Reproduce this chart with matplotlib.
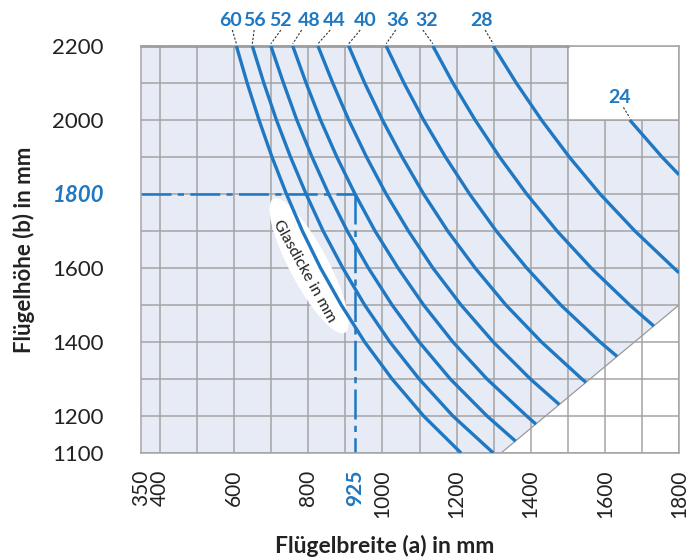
import numpy as np
import matplotlib
matplotlib.use("Agg")
import matplotlib.pyplot as plt
from matplotlib.patches import Polygon, Rectangle, Ellipse

plt.rcParams.update({
    "font.family": ["Lato", "DejaVu Sans"],
    "font.size": 14,
})

BLUE = "#1f78c1"
GRID = "#a4a4a4"
FILL = "#e7ebf6"
TEXT = "#222222"

# glass thickness (mm) -> curve: heights b and widths a
THICKNESS = [60, 56, 52, 48, 44, 40, 36, 32, 28, 24]

H_60 = [2200, 2100, 2000, 1900, 1800, 1700, 1600, 1500, 1400, 1300, 1200, 1100]
W_60 = [606, 635, 667, 702, 741, 784, 833, 889, 952, 1026, 1111, 1212]

H_56 = [2200, 2100, 2000, 1900, 1800, 1700, 1600, 1500, 1400, 1300, 1200, 1100]
W_56 = [649, 680, 714, 752, 794, 840, 893, 952, 1020, 1099, 1190, 1299]

H_52 = [2200, 2100, 2000, 1900, 1800, 1700, 1600, 1500, 1400, 1300, 1200, 1132]
W_52 = [699, 733, 769, 810, 855, 905, 962, 1026, 1099, 1183, 1282, 1359]

H_48 = [2200, 2100, 2000, 1900, 1800, 1700, 1600, 1500, 1400, 1300, 1200, 1178]
W_48 = [758, 794, 833, 877, 926, 980, 1042, 1111, 1190, 1282, 1389, 1414]

H_44 = [2200, 2100, 2000, 1900, 1800, 1700, 1600, 1500, 1400, 1300, 1231]
W_44 = [826, 866, 909, 957, 1010, 1070, 1136, 1212, 1299, 1399, 1477]

H_40 = [2200, 2100, 2000, 1900, 1800, 1700, 1600, 1500, 1400, 1300, 1291]
W_40 = [909, 952, 1000, 1053, 1111, 1176, 1250, 1333, 1429, 1538, 1549]

H_36 = [2200, 2100, 2000, 1900, 1800, 1700, 1600, 1500, 1400, 1361]
W_36 = [1010, 1058, 1111, 1170, 1235, 1307, 1389, 1481, 1587, 1633]

H_32 = [2200, 2100, 2000, 1900, 1800, 1700, 1600, 1500, 1443]
W_32 = [1136, 1190, 1250, 1316, 1389, 1471, 1563, 1667, 1732]

H_28 = [2200, 2100, 2000, 1900, 1800, 1700, 1600, 1587]
W_28 = [1299, 1361, 1429, 1504, 1587, 1681, 1786, 1800]

H_24 = [2000, 1900, 1852]
W_24 = [1667, 1754, 1800]

CURVES = {60: (W_60, H_60), 56: (W_56, H_56), 52: (W_52, H_52),
          48: (W_48, H_48), 44: (W_44, H_44), 40: (W_40, H_40),
          36: (W_36, H_36), 32: (W_32, H_32), 28: (W_28, H_28),
          24: (W_24, H_24)}

# permitted area (shaded)
AREA_A = [350, 350, 1500, 1500, 1800, 1800, 1320]
AREA_B = [1100, 2200, 2200, 2000, 2000, 1500, 1100]

X_TICKS = [350, 400, 600, 800, 925, 1000, 1200, 1400, 1600, 1800]
Y_TICKS = [1100, 1200, 1400, 1600, 1800, 2000, 2200]

EXAMPLE_A = 925
EXAMPLE_B = 1800

# label placement (text x, leader start x)
LABEL_POS = {60: (589, 595), 56: (656, 654), 52: (726, 726), 48: (802, 782),
             44: (870, 859), 40: (954, 940), 36: (1042, 1036),
             32: (1118, 1109), 28: (1268, 1277)}

fig = plt.figure(figsize=(6.98, 5.60), dpi=100)
ax = fig.add_axes([0.2027, 0.1911, 0.7701, 0.7268])
ax.set_xlim(350, 1800)
ax.set_ylim(1100, 2200)

ax.add_patch(Polygon(np.column_stack([AREA_A, AREA_B]), closed=True,
                     facecolor=FILL, edgecolor="none", zorder=0.1))

# grid every 100 mm
for gx in np.arange(400, 1801, 100):
    ax.axvline(gx, color=GRID, lw=1.1, zorder=0.5)
for gy in np.arange(1100, 2201, 100):
    ax.axhline(gy, color=GRID, lw=1.1, zorder=0.5)
ax.add_patch(Rectangle((1500, 2000), 300, 200, facecolor="white",
                       edgecolor=GRID, lw=1.1, zorder=0.6))
ax.plot([AREA_A[5], AREA_A[6]], [AREA_B[5], AREA_B[6]], color="#9a9a9a",
        lw=0.9, zorder=0.7)

for s in ax.spines.values():
    s.set_color(GRID)
    s.set_linewidth(1.1)
ax.plot([350, 1500], [2200, 2200], color="#8e8e8e", lw=1.8,
        clip_on=False, zorder=0.8)

ax.set_xticks(X_TICKS)
ax.set_yticks(Y_TICKS)
ax.set_xticklabels([str(v) for v in X_TICKS], rotation=90)
ax.set_yticklabels([str(v) for v in Y_TICKS])
ax.tick_params(which="both", length=0)
ax.tick_params(axis="y", pad=27, labelsize=16, labelcolor=TEXT)
ax.tick_params(axis="x", pad=12, labelsize=15, labelcolor=TEXT)
for lbl in ax.get_xticklabels():
    if lbl.get_text() == str(EXAMPLE_A):
        lbl.set_color(BLUE)
        lbl.set_fontweight("bold")
for lbl in ax.get_yticklabels():
    if lbl.get_text() == str(EXAMPLE_B):
        lbl.set_color(BLUE)
        lbl.set_fontweight("bold")
        lbl.set_fontstyle("italic")

# white label blob
ax.add_patch(Ellipse((802, 1606), width=410, height=104, angle=-62,
                     facecolor="white", edgecolor="none", zorder=1.5))
ax.text(790, 1590, "Glasdicke in mm", rotation=-61, rotation_mode="anchor",
        ha="center", va="center", fontsize=11.5, color=TEXT, zorder=4)

# example lines
ax.plot([350, EXAMPLE_A], [EXAMPLE_B, EXAMPLE_B], color=BLUE, lw=1.8,
        ls=(0, (12, 2.5, 2.5, 2.5)), zorder=2)
ax.plot([EXAMPLE_A, EXAMPLE_A], [EXAMPLE_B, 1100], color=BLUE, lw=1.8,
        ls=(0, (12, 2.5, 2.5, 2.5)), zorder=2)

for t in THICKNESS:
    w, h = CURVES[t]
    ax.plot(w, h, color=BLUE, lw=2.4, solid_capstyle="butt", zorder=3)

for t, (tx, lx) in LABEL_POS.items():
    w, h = CURVES[t]
    ax.text(tx, 2268, str(t), ha="center", va="center", fontsize=14,
            fontweight="bold", color=BLUE, clip_on=False)
    ax.plot([lx, w[0]], [2243, 2206], color="#333333", lw=0.8,
            ls=(0, (2, 1.5)), clip_on=False)

w, h = CURVES[24]
ax.text(1639, 2062, "24", ha="center", va="center", fontsize=14,
        fontweight="bold", color=BLUE)
ax.plot([1650, w[0]], [2034, 2006], color="#333333", lw=0.8,
        ls=(0, (2, 1.5)))

fig.text(0.034, 0.5536, "Flügelhöhe (b) in mm", rotation=90, ha="center",
         va="center", fontsize=16, fontweight="bold", color=TEXT)
fig.text(0.551, 0.025, "Flügelbreite (a) in mm", ha="center", va="center",
         fontsize=16.5, fontweight="bold", color=TEXT)

fig.savefig("out.png", dpi=100)
